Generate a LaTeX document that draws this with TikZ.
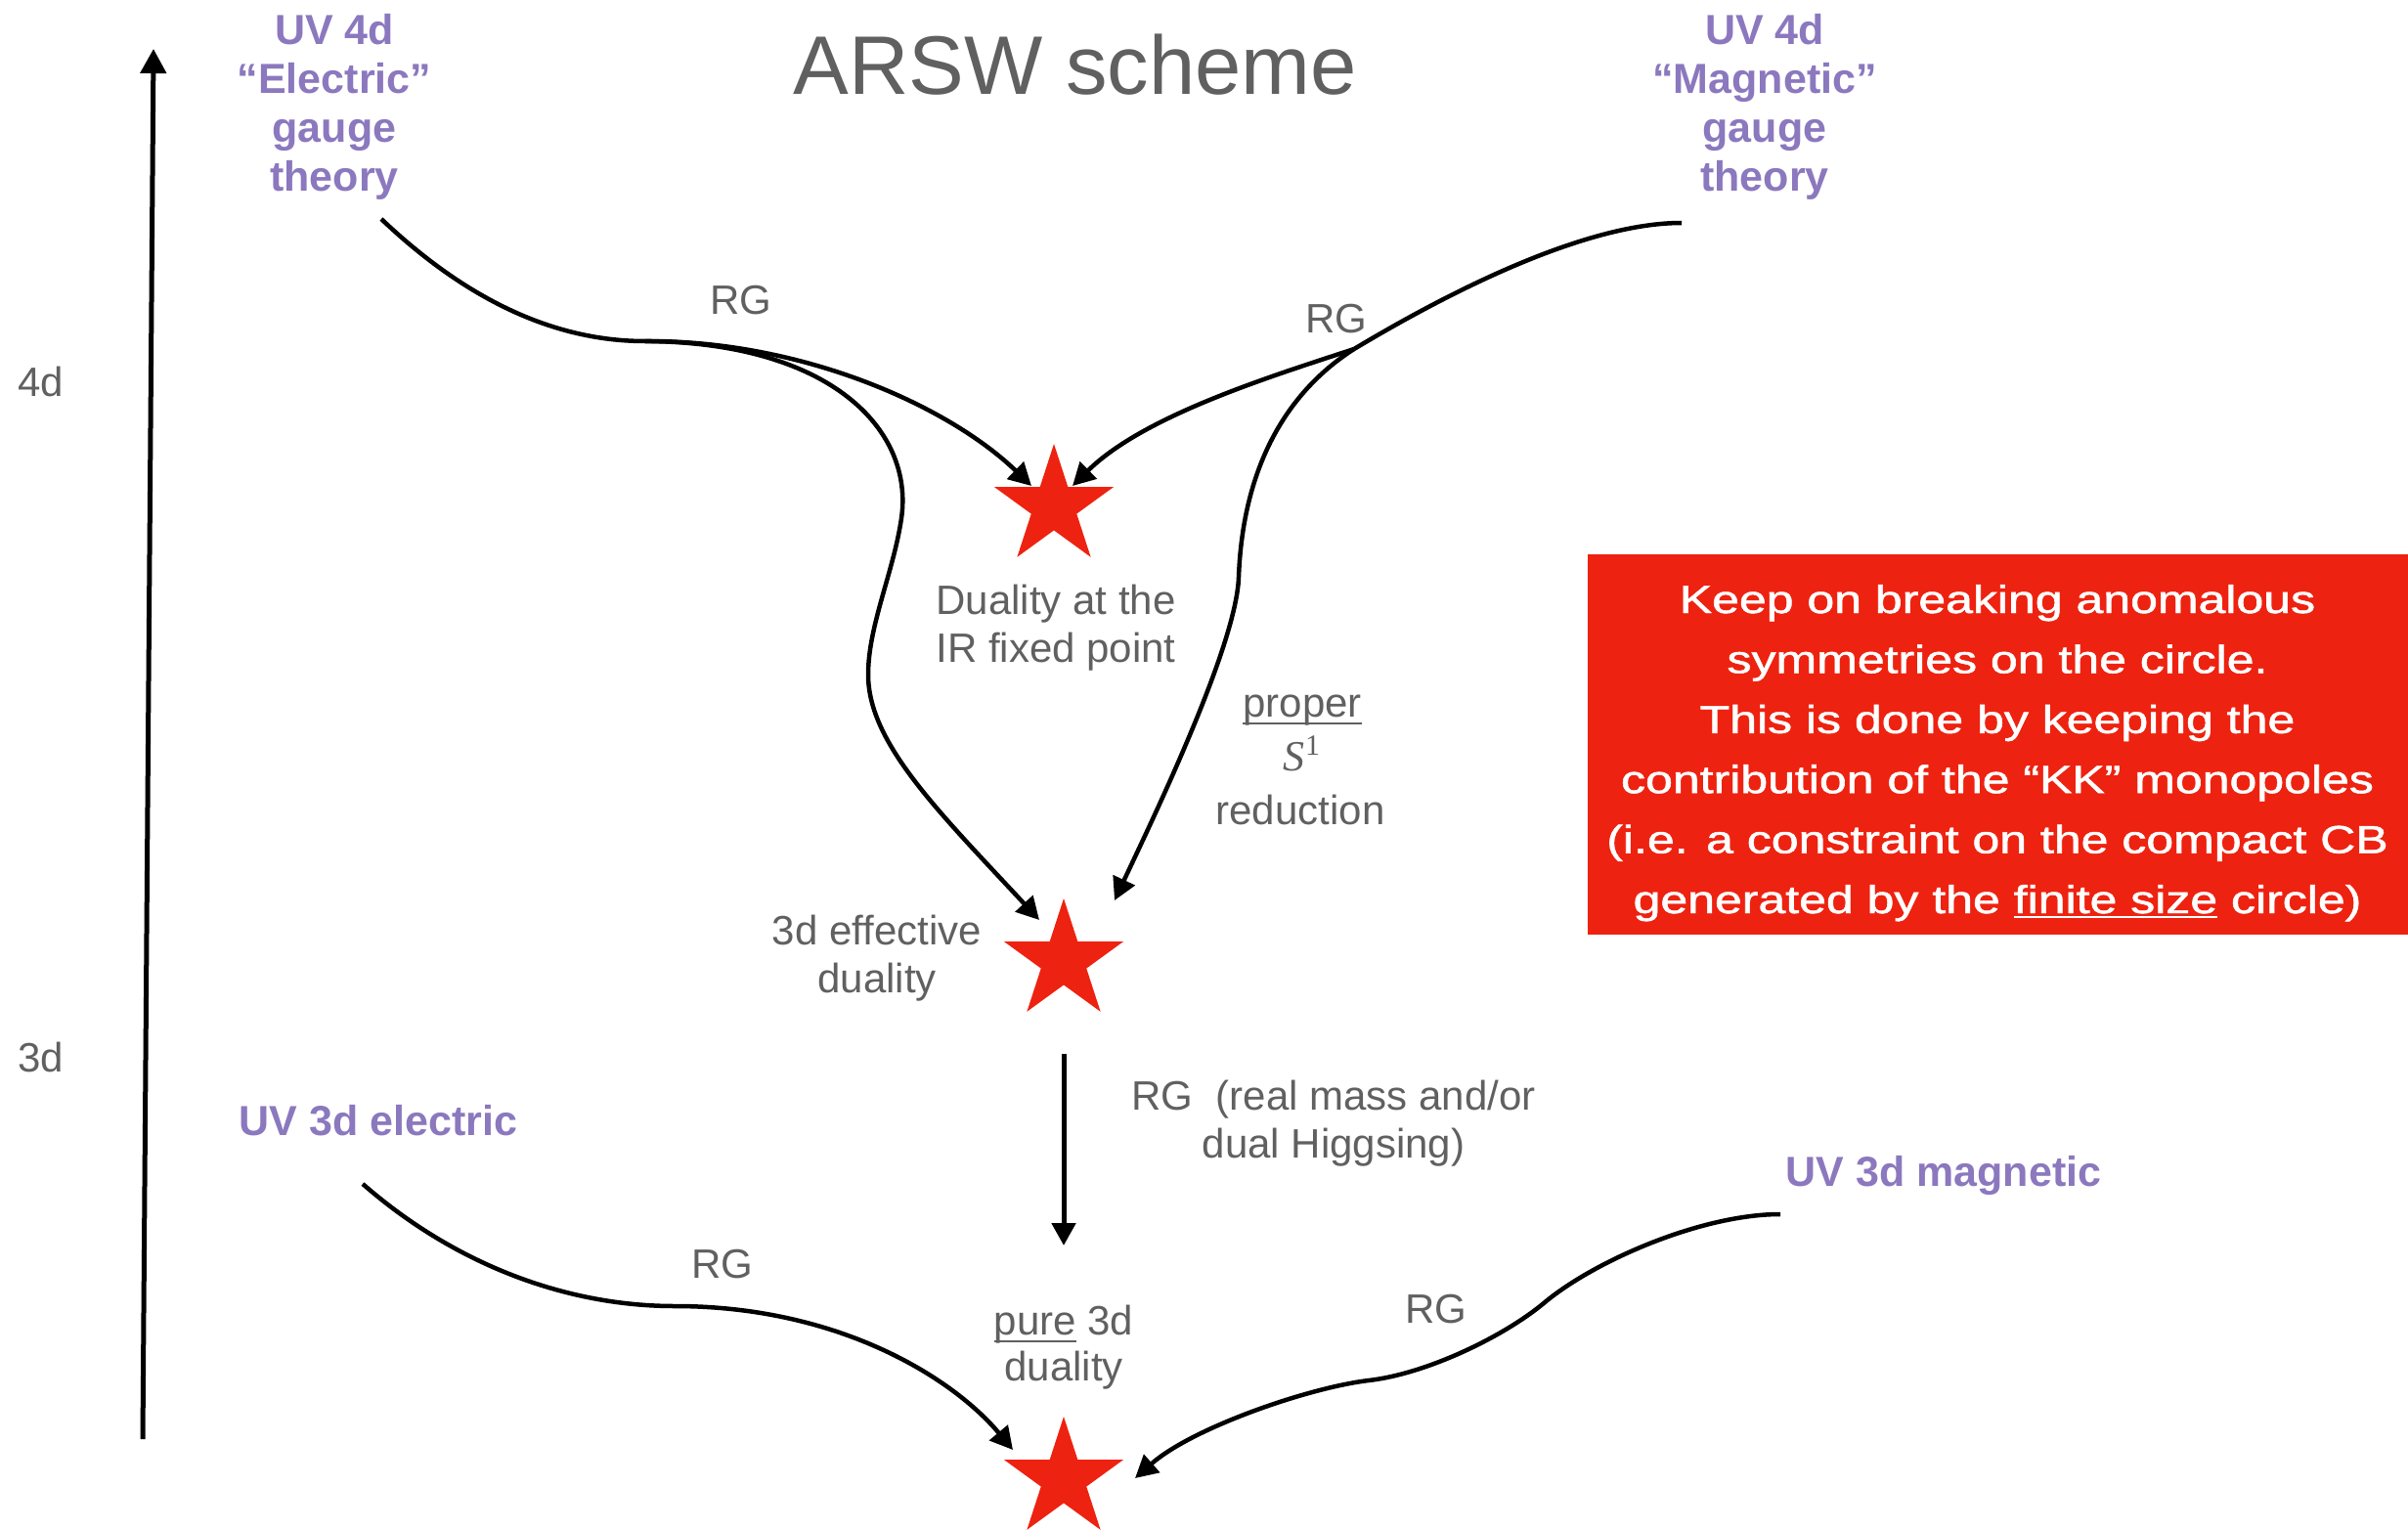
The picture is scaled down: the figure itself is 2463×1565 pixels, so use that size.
\documentclass[tikz,border=0pt]{standalone}
\usepackage{fontspec}
\setmainfont{Liberation Sans}
\newfontfamily\serifface{Liberation Serif}
\usetikzlibrary{arrows.meta,shapes.geometric,calc}

\definecolor{labelgray}{RGB}{96,96,96}
\definecolor{theorypurple}{RGB}{139,120,190}
\definecolor{fixedred}{RGB}{238,34,16}

% underline at a fixed depth below the baseline: #1 depth, #2 thickness, #3 text
\newcommand\undl[3]{\setbox0\hbox{#3}\rlap{\rule[-#1]{\wd0}{#2}}\box0\relax}
% centred stack of lines whose baseline is the first line's
\newcommand\txtlines[1]{\begin{tabular}[t]{@{}c@{}}#1\end{tabular}}

\begin{document}
\begin{tikzpicture}[x=1pt,y=-1pt,
  uvlabel/.style={text=theorypurple, inner sep=0pt, anchor=base,
    font=\fontsize{43}{50}\selectfont\bfseries},
  grlabel/.style={text=labelgray, inner sep=0pt, anchor=base,
    font=\fontsize{42}{49}\selectfont},
  fixedpt/.style={star, star points=5, star point ratio=2.618,
    minimum size=128pt, inner sep=0pt, fill=fixedred, draw=none},
  flowplain/.style={line width=4.5pt, black},
  flow/.style={flowplain, -{Triangle[length=23pt,width=24pt]}},
]
\useasboundingbox (0,0) rectangle (2463,1565);

% scale axis
\coordinate (axbot) at (146,1472);
\coordinate (axtop) at (157,50);
\draw[line width=5pt, -{Triangle[length=25pt,width=26pt]}] (axbot) -- (axtop);
\node[grlabel] (ax4) at (42,405) {4d};
\node[grlabel] (ax3) at (42,1096) {3d};

% title
\node[text=labelgray, inner sep=0pt, anchor=base,
  font=\fontsize{85}{100}\selectfont] (title) at (1100,97) {ARSW scheme};

% UV theories
\node[uvlabel] (e4) at (342,46) {\txtlines{UV 4d\\“Electric”\\gauge\\theory}};
\node[uvlabel] (m4) at (1805,46) {\txtlines{UV 4d\\“Magnetic”\\gauge\\theory}};
\node[uvlabel] (e3) at (387,1161) {UV 3d electric};
\node[uvlabel] (m3) at (1988,1213) {UV 3d magnetic};

% fixed points
\node[fixedpt] (s1) at (1078,518) {};
\node[fixedpt] (s2) at (1088,983) {};
\node[fixedpt] (s3) at (1088,1513) {};

% labels
\node[grlabel] (rg1) at (758,321) {RG};
\node[grlabel] (rg2) at (1367,340) {RG};
\node[grlabel] (irfp) at (1080,628) {\txtlines{Duality at the\\IR fixed point}};
\node[grlabel] (proper) at (1332,733) {\undl{8pt}{2.5pt}{proper}};
\node[text=labelgray, inner sep=0pt, anchor=base,
  font=\fontsize{44}{48}\selectfont\serifface] (sone) at (1331,788)
  {\itshape S\upshape\kern1pt\raisebox{16pt}{\fontsize{30}{32}\selectfont 1}};
\node[grlabel] (reduction) at (1330,843) {reduction};
\node[grlabel] (eff) at (897,966) {\txtlines{3d effective\\duality}};
\node[grlabel] (rgmass) at (1364,1135) {\txtlines{RG\ \ (real mass and/or\\dual Higgsing)}};
\node[grlabel, font=\fontsize{42}{47}\selectfont] (pure) at (1088,1365)
  {\txtlines{\undl{8pt}{2.5pt}{pure} 3d\\duality}};
\node[grlabel] (rg3) at (739,1307) {RG};
\node[grlabel] (rg4) at (1469,1353) {RG};

% note box
\node[fill=fixedred, inner sep=0pt, minimum width=839pt, minimum height=389pt,
  anchor=north west] (note) at (1624,567) {};
\node[text=white, inner sep=0pt, anchor=base,
  font=\fontsize{40}{61.4}\selectfont\addfontfeature{FakeBold=1.2}] (notetext) at (2043,627)
  {\scalebox{1.25}[1]{\txtlines{Keep on breaking anomalous\\
   symmetries on the circle.\\
   This is done by keeping the\\
   contribution of the “KK” monopoles\\
   (i.e. a constraint on the compact CB\\
   generated by the \undl{5pt}{2.5pt}{finite size} circle)}}};

% connector ends
\coordinate (e4out) at (390,224);
\coordinate (jl) at (660,349);
\coordinate (m4out) at (1720,228);
\coordinate (jr) at (1385,357);
\coordinate (e3out) at (371,1211);
\coordinate (m3out) at (1821,1242);
\coordinate (s1w) at ($(s1)+(-23,-21)$);
\coordinate (s1e) at ($(s1)+(19,-21)$);
\coordinate (s2w) at ($(s2)+(-25,-42)$);
\coordinate (s2e) at ($(s2)+(52,-62)$);
\coordinate (s3w) at ($(s3)+(-52,-30)$);
\coordinate (s3e) at ($(s3)+(73,-1)$);

% 4d RG flows
\draw[flowplain] (e4out) .. controls (470,300) and (560,349) .. (jl);
\draw[flow] (jl) .. controls (820,348) and (970,415) .. (s1w);
\draw[flow] (jl) .. controls (850,350) and (935,440) .. (922,530)
  .. controls (914,585) and (888,640) .. (888,690)
  .. controls (888,760) and (960,830) .. (s2w);
\draw[flowplain] (m4out) .. controls (1620,228) and (1480,300) .. (jr);
\draw[flow] (jr) .. controls (1300,385) and (1170,425) .. (s1e);
\draw[flow] (jr) .. controls (1330,392) and (1272,460) .. (1267,590)
  .. controls (1265,660) and (1179,838) .. (s2e);

% 3d flows
\draw[flow, line width=5pt, shorten <=95pt, shorten >=239pt] (s2.center) -- (s3.center);
\draw[flow] (e3out) .. controls (466,1294) and (580,1336) .. (690,1336)
  .. controls (860,1336) and (976,1411) .. (s3w);
\draw[flow] (m3out) .. controls (1740,1242) and (1630,1290) .. (1579,1333)
  .. controls (1538,1367) and (1460,1405) .. (1400,1412)
  .. controls (1340,1419) and (1220,1460) .. (s3e);
\end{tikzpicture}
\end{document}
